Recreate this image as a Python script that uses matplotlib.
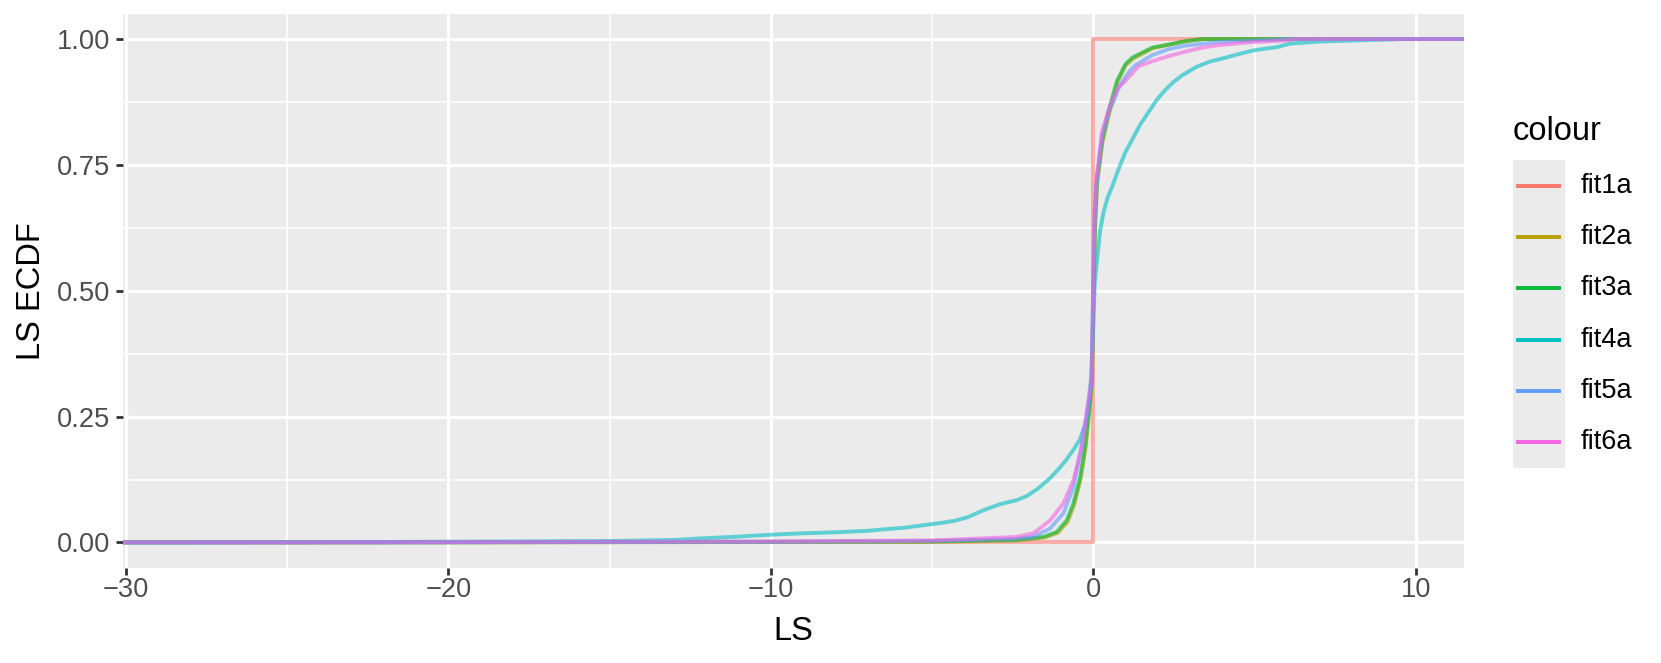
import numpy as np
import matplotlib.pyplot as plt
from matplotlib.lines import Line2D
from matplotlib.patches import Rectangle

plt.rcParams['font.family'] = ['Liberation Sans', 'DejaVu Sans']

# -- data: ECDF knots (x = LS, F = cumulative fraction)
fit1a_x = [0.0, 0.0]
fit1a_F = [0.0, 1.0]

fit2a_x = [-20.0, -5.0, -2.4, -1.5, -1.1, -0.8, -0.6, -0.4, -0.25, -0.14, -0.04, 0.01, 0.06, 0.12,
           0.28, 0.5, 0.75, 1.0, 1.25, 1.55, 1.85, 2.35, 2.9, 3.4]
fit2a_F = [0.0, 0.001, 0.004, 0.010, 0.019, 0.041, 0.074, 0.125, 0.185, 0.25, 0.32, 0.5, 0.64, 0.715,
           0.795, 0.855, 0.915, 0.948, 0.962, 0.972, 0.982, 0.989, 0.996, 1.0]

fit3a_x = [-22.0, -5.0, -2.4, -1.55, -1.14, -0.83, -0.62, -0.41, -0.26, -0.15, -0.05, 0.0, 0.05, 0.11,
           0.27, 0.47, 0.73, 0.99, 1.20, 1.51, 1.82, 2.33, 2.85, 3.37]
fit3a_F = [0.0, 0.002, 0.005, 0.011, 0.021, 0.044, 0.078, 0.130, 0.19, 0.256, 0.322, 0.5, 0.64, 0.718,
           0.798, 0.857, 0.917, 0.950, 0.963, 0.973, 0.983, 0.989, 0.996, 1.0]

fit4a_x = [-28.2, -22.0, -18.0, -14.8, -13.0, -12.19, -11.16, -10.12, -9.09, -8.06, -7.02, -6.5,
           -5.9, -5.3, -4.8, -4.3, -3.9, -3.41, -2.9, -2.38, -2.07, -1.7, -1.34, -1.05, -0.83, -0.6,
           -0.41, -0.21, -0.10, -0.02, 0.04, 0.11, 0.21, 0.31, 0.44, 0.57, 0.78, 0.99, 1.20, 1.45,
           1.71, 1.95, 2.17, 2.45, 2.75, 3.2, 3.6, 4.09, 4.61, 5.0, 5.69, 6.1, 7.0, 8.0, 9.0, 9.6]
fit4a_F = [0.0, 0.001, 0.002, 0.003, 0.005, 0.008, 0.011, 0.015, 0.018, 0.020, 0.023, 0.026,
           0.029, 0.034, 0.038, 0.043, 0.050, 0.064, 0.076, 0.084, 0.092, 0.108, 0.128, 0.148, 0.165, 0.186,
           0.206, 0.243, 0.289, 0.40, 0.514, 0.56, 0.62, 0.655, 0.685, 0.705, 0.742, 0.775, 0.80, 0.83,
           0.855, 0.878, 0.895, 0.913, 0.928, 0.945, 0.955, 0.963, 0.972, 0.978, 0.984, 0.991, 0.995, 0.997, 0.999, 1.0]

fit5a_x = [-25.0, -10.0, -5.0, -2.5, -1.86, -1.34, -0.93, -0.62, -0.41, -0.21, -0.06, -0.01, 0.04, 0.10,
           0.27, 0.50, 0.65, 0.79, 1.10, 1.30, 1.82, 2.33, 2.85, 3.88, 4.92, 6.0]
fit5a_F = [0.0, 0.001, 0.003, 0.007, 0.011, 0.028, 0.058, 0.11, 0.177, 0.256, 0.33, 0.5, 0.65, 0.72,
           0.81, 0.86, 0.88, 0.905, 0.935, 0.948, 0.968, 0.980, 0.987, 0.994, 0.997, 1.0]

fit6a_x = [-25.0, -10.0, -5.0, -2.38, -1.86, -1.34, -0.93, -0.62, -0.36, -0.21, -0.05, -0.01, 0.03, 0.09,
           0.27, 0.50, 0.73, 0.99, 1.40, 1.82, 2.43, 2.85, 3.37, 3.88, 4.92, 5.95, 6.3]
fit6a_F = [0.0, 0.002, 0.004, 0.011, 0.018, 0.044, 0.078, 0.124, 0.19, 0.256, 0.322, 0.5, 0.65, 0.72,
           0.817, 0.865, 0.90, 0.917, 0.946, 0.956, 0.968, 0.975, 0.983, 0.988, 0.994, 0.997, 1.0]

names = ['fit1a', 'fit2a', 'fit3a', 'fit4a', 'fit5a', 'fit6a']
xs = [fit1a_x, fit2a_x, fit3a_x, fit4a_x, fit5a_x, fit6a_x]
Fs = [fit1a_F, fit2a_F, fit3a_F, fit4a_F, fit5a_F, fit6a_F]
colors = ['#F8766D', '#B79F00', '#00BA38', '#00BFC4', '#619CFF', '#F564E3']

x_ticks = [-30, -20, -10, 0, 10]
y_ticks = [0.0, 0.25, 0.5, 0.75, 1.0]

# -- limits like ggplot (5% expansion of data range)
lo = min(min(x) for x in xs)
hi = max(max(x) for x in xs)
pad = 0.05 * (hi - lo)
xlim = (lo - pad, hi + pad)
ylim = (-0.05, 1.05)

W, H = 1661, 663
fig = plt.figure(figsize=(W / 100, H / 100), dpi=100)
ax = fig.add_axes([123 / W, 1 - 567.6 / H, (1464 - 123) / W, (567.6 - 13.9) / H])
ax.set_facecolor('#EBEBEB')
for s in ax.spines.values():
    s.set_visible(False)

ax.set_xticks(x_ticks)
ax.set_xticks([-25, -15, -5, 5], minor=True)
ax.set_yticks(y_ticks)
ax.set_yticks([0.125, 0.375, 0.625, 0.875], minor=True)
ax.set_xticklabels([str(t).replace('-', '\u2212') for t in x_ticks])
ax.set_yticklabels(['%.2f' % t for t in y_ticks])
ax.grid(which='major', color='white', lw=2.3)
ax.grid(which='minor', color='white', lw=1.15)
ax.set_axisbelow(True)
ax.tick_params(which='major', length=5.3, width=2.0, color='#333333', labelcolor='#4D4D4D',
               labelsize=19.6)
ax.tick_params(axis='y', which='major', pad=4.0)
ax.tick_params(axis='x', which='major', pad=1.8)
ax.tick_params(which='minor', length=0)

for x, F, c in zip(xs, Fs, colors):
    ax.plot([xlim[0]] + x + [xlim[1]], [0.0] + F + [1.0], color=c, alpha=0.6, lw=2.8,
            solid_joinstyle='round')

ax.set_xlim(xlim)
ax.set_ylim(ylim)

fig.text(793.5 / W, 1 - 631 / H, 'LS', ha='center', va='center', fontsize=23.5)
fig.text(31.5 / W, 1 - 290.8 / H, 'LS ECDF', ha='center', va='center', rotation=90, fontsize=23.5)

# -- legend
def fx(px):
    return px / W

def fy(py):
    return 1 - py / H

fig.text(fx(1513), fy(140), 'colour', ha='left', va='baseline', fontsize=23.5)
fig.add_artist(Rectangle((fx(1512.7), fy(468)), fx(1565) - fx(1512.7), fy(160) - fy(468),
                         transform=fig.transFigure, color='#EBEBEB', lw=0))
for i, (n, c) in enumerate(zip(names, colors)):
    ky = 185.7 + 51.3 * i
    fig.add_artist(Line2D([fx(1518.3), fx(1559.3)], [fy(ky), fy(ky)], transform=fig.transFigure,
                          color=c, lw=2.8))
    fig.text(fx(1581), fy(ky), n, ha='left', va='center', fontsize=19.6)

fig.savefig('out.png', dpi=100)
